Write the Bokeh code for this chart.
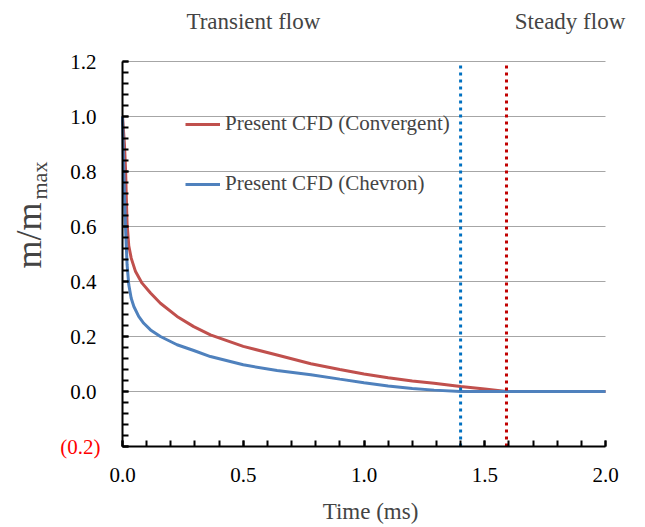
import math
from bokeh.plotting import figure
from bokeh.models import (Range1d, SingleIntervalTicker, FixedTicker, NumeralTickFormatter,
                          CustomJSTickFormatter, Label, Legend, LegendItem)
from bokeh.core.properties import value
from bokeh.embed import file_html
from bokeh.resources import INLINE

# ---- data ----
conv_t = [0.0, 0.008, 0.013, 0.016, 0.019, 0.026, 0.036, 0.054, 0.081, 0.116, 0.157,
          0.226, 0.295, 0.364, 0.5, 0.64, 0.78, 0.9, 1.0, 1.1, 1.2, 1.29, 1.4, 1.5,
          1.59, 1.7, 1.8, 1.9, 2.0]
conv_m = [1.0, 0.9, 0.8, 0.7, 0.61, 0.53, 0.485, 0.436, 0.394, 0.358, 0.321,
          0.273, 0.236, 0.206, 0.164, 0.133, 0.101, 0.08, 0.064, 0.05, 0.038, 0.030,
          0.018, 0.009, 0.0, 0.0, 0.0, 0.0, 0.0]

chev_t = [0.0, 0.004, 0.008, 0.012, 0.019, 0.026, 0.036, 0.047, 0.067, 0.088, 0.116,
          0.157, 0.226, 0.295, 0.364, 0.5, 0.64, 0.78, 0.9, 1.0, 1.1, 1.2, 1.29, 1.4,
          1.5, 1.6, 1.7, 1.8, 1.9, 2.0]
chev_m = [1.0, 0.85, 0.72, 0.606, 0.461, 0.388, 0.339, 0.309, 0.273, 0.248, 0.224,
          0.2, 0.170, 0.149, 0.127, 0.097, 0.076, 0.061, 0.045, 0.032, 0.02, 0.011,
          0.005, 0.0, 0.0, 0.0, 0.0, 0.0, 0.0, 0.0]

steady_t = [1.4, 1.59]          # onset of steady flow (Chevron, Convergent)
steady_colors = ["#0070C0", "#C00000"]

series_names = ["Present CFD (Convergent)", "Present CFD (Chevron)"]
series_colors = ["#C0504D", "#4F81BD"]

x_lim = (0.0, 2.0)
y_lim = (-0.2, 1.2)
y_ticks = [-0.2, 0.0, 0.2, 0.4, 0.6, 0.8, 1.0, 1.2]
x_title = "Time (ms)"
y_title = "m/m"
y_title_sub = "max"
neg_label = "(0.2)"
region_labels = ["Transient flow", "Steady flow"]
region_label_x = [0.542, 1.853]

FONT = "Liberation Serif"

# ---- layout: plot area spans the whole canvas, axes pinned at the data origin ----
W, H = 645, 527
PX_L, PX_R, PX_T, PX_B = 122, 605, 61, 446          # pixel box of the data area
sx = (PX_R - PX_L) / (x_lim[1] - x_lim[0])
sy = (PX_B - PX_T) / (y_lim[1] - y_lim[0])
x_range = Range1d(x_lim[0] - PX_L / sx, x_lim[1] + (W - PX_R) / sx)
y_range = Range1d(y_lim[0] - (H - PX_B) / sy, y_lim[1] + PX_T / sy)

def ypix(py):   # page pixel row -> data y
    return y_lim[1] - (py - PX_T) / sy

def xpix(px):   # page pixel column -> data x
    return x_lim[0] + (px - PX_L) / sx

p = figure(width=W, height=H, output_backend="svg", toolbar_location=None,
           min_border=0, x_range=x_range, y_range=y_range)
p.outline_line_color = None
p.background_fill_color = "white"
p.border_fill_color = "white"

# grid (only across the data area)
p.xgrid.visible = False
grid_y = y_ticks[1:]
if "cross_bounds" in p.ygrid[0].properties():
    p.ygrid.ticker = FixedTicker(ticks=grid_y)
    p.ygrid.cross_bounds = x_lim
    p.ygrid.grid_line_color = "#A6A6A6"
    p.ygrid.grid_line_width = 1
else:
    p.ygrid.visible = False
    p.segment(x0=[x_lim[0]] * len(grid_y), x1=[x_lim[1]] * len(grid_y), y0=grid_y, y1=grid_y,
              line_color="#A6A6A6", line_width=1)

# axes
y_minor = [round(y_ticks[0] + 0.04 * i, 2) for i in range(36)]
p.xaxis.ticker = SingleIntervalTicker(interval=0.5, num_minor_ticks=5)
p.xaxis.formatter = NumeralTickFormatter(format="0.0")
p.xaxis.fixed_location = y_lim[0]
p.xaxis.bounds = x_lim
p.yaxis.ticker = FixedTicker(ticks=y_ticks, minor_ticks=y_minor)
p.yaxis.formatter = CustomJSTickFormatter(code='return tick < -0.1 ? "" : tick.toFixed(1);')
p.yaxis.fixed_location = x_lim[0]
p.yaxis.bounds = y_lim
for ax in (p.xaxis[0], p.yaxis[0]):
    ax.axis_line_color = "black"
    ax.axis_line_width = 2
    ax.major_tick_line_color = "black"
    ax.minor_tick_line_color = "black"
    ax.major_tick_line_width = 2
    ax.minor_tick_line_width = 2
    ax.major_tick_in = 6
    ax.major_tick_out = 0
    ax.minor_tick_in = 6
    ax.minor_tick_out = 0
    ax.major_label_text_font = FONT
    ax.major_label_text_font_size = "21px"
    ax.major_label_text_color = "black"
p.xaxis.major_label_standoff = 21
p.yaxis.major_label_standoff = 26

# curves
r1 = p.line(conv_t, conv_m, line_color=series_colors[0], line_width=3)
r2 = p.line(chev_t, chev_m, line_color=series_colors[1], line_width=3)

# steady-flow markers
for t, c in zip(steady_t, steady_colors):
    p.segment(x0=[t], y0=[y_lim[0]], x1=[t], y1=[y_lim[1]], line_color=c, line_width=3,
              line_dash=value("3 4"))

legend = Legend(items=[LegendItem(label=series_names[0], renderers=[r1]),
                       LegendItem(label=series_names[1], renderers=[r2])],
                location=(185, 331), padding=0, margin=0, spacing=35,
                glyph_width=35, glyph_height=24, label_height=24, label_standoff=5,
                border_line_alpha=0, background_fill_alpha=0,
                label_text_font=FONT, label_text_font_size="21px")
p.add_layout(legend)

# texts
p.add_layout(Label(x=x_lim[0], y=y_lim[0], x_offset=-22, text=neg_label,
                   text_color="#FF0000", text_font=FONT, text_font_size="21px",
                   text_align="right", text_baseline="middle"))
p.add_layout(Label(x=xpix(370), y=ypix(511), text=x_title, text_font=FONT,
                   text_font_size="23px", text_align="center", text_baseline="alphabetic"))
for lx, lt in zip(region_label_x, region_labels):
    p.add_layout(Label(x=lx, y=ypix(21), text=lt, text_font=FONT, text_font_size="23px",
                       text_align="center", text_baseline="alphabetic"))
p.add_layout(Label(x=xpix(28), y=ypix(268), text=y_title, angle=math.pi / 2, text_font=FONT,
                   text_font_size="36px", text_align="left", text_baseline="alphabetic"))
p.add_layout(Label(x=xpix(39), y=ypix(199), text=y_title_sub, angle=math.pi / 2,
                   text_font=FONT, text_font_size="22px", text_align="left",
                   text_baseline="alphabetic"))

open("out.html", "w").write(file_html(p, INLINE))
